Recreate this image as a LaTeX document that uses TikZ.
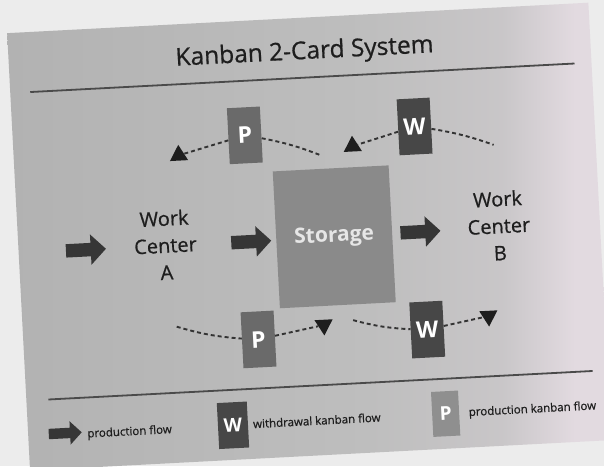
\documentclass[tikz,border=0pt]{standalone}
\usepackage{fontspec}
\setmainfont{Open Sans}
\newfontfamily\semifont[FakeBold=0.7]{Open Sans}
\usetikzlibrary{shapes.geometric,shapes.arrows}
\definecolor{bgout}{HTML}{ECECEC}
\definecolor{panA}{HTML}{B2B2B2}
\definecolor{panB}{HTML}{BEBEBE}
\definecolor{panC}{HTML}{E2DAE0}
\definecolor{storeC}{HTML}{8A8A8A}
\definecolor{cardP}{HTML}{6A6A6A}
\definecolor{cardW}{HTML}{474747}
\definecolor{inkC}{HTML}{1E1E1E}
\definecolor{arrC}{HTML}{363636}
\definecolor{dashC}{HTML}{333333}
\definecolor{ruleC}{HTML}{4A4A4A}
\definecolor{storeT}{HTML}{E6E6E6}
\pgfdeclarehorizontalshading{panelshade}{100bp}{color(0bp)=(panA); color(25bp)=(panA); color(55bp)=(panB); color(66bp)=(panB!70!panC); color(72bp)=(panC); color(100bp)=(panC)}
\begin{document}
\begin{tikzpicture}[x=1pt,y=-1pt,
  card/.style={draw=none, minimum width=33pt, minimum height=56pt, inner sep=0pt, text=white, font=\bfseries\fontsize{23}{23}\selectfont},
  pcard/.style={card, fill=cardP},
  wcard/.style={card, fill=cardW},
  flowarrow/.style={single arrow, fill=arrC, draw=none, minimum height=40pt, inner xsep=0pt, inner ysep=6.5pt, single arrow head extend=8.5pt},
  kanflow/.style={draw=dashC, line width=1.9pt, dash pattern=on 4pt off 3pt},
  uptri/.style={regular polygon, regular polygon sides=3, fill=inkC, minimum size=21pt, inner sep=0pt},
  downtri/.style={uptri, shape border rotate=180},
  wctext/.style={align=center, text=inkC, font=\semifont\fontsize{20}{27}\selectfont},
  legtext/.style={anchor=west, text=inkC, font=\semifont\fontsize{11.5}{12}\selectfont, inner sep=0pt},
  rulestyle/.style={draw=ruleC, line width=1.8pt}
]
\useasboundingbox (0,0) rectangle (604,466);
\fill[bgout] (0,0) rectangle (604,466);
\clip (0,0) rectangle (604,466);
\begin{scope}[rotate around={3:(302,233)}, transform shape]
  % panel
  \shade[shading=panelshade] (18,18) rectangle (600,456);
  % title and rules
  \node[font=\semifont\fontsize{24.5}{24.5}\selectfont, text=inkC] (title) at (314,53) {Kanban 2-Card System};
  \coordinate (r1a) at (38,78);
  \coordinate (r1b) at (583,78);
  \draw[rulestyle] (r1a) -- (r1b);
  \coordinate (r2a) at (40,386);
  \coordinate (r2b) at (585,386);
  \draw[rulestyle] (r2a) -- (r2b);
  % main row
  \node[flowarrow] (inarrow) at (82,238.5) {};
  \node[wctext] (wca) at (165,238) {Work\\Center\\A};
  \node[flowarrow] (arrAS) at (247.5,239) {};
  \node[fill=storeC, minimum width=116pt, minimum height=137pt, inner sep=0pt, text=storeT, font=\bfseries\fontsize{21}{21}\selectfont] (storage) at (334,238.5) {Storage};
  \node[flowarrow] (arrSB) at (417,238) {};
  \node[wctext] (wcb) at (499,236) {Work\\Center\\B};
  % top kanban flows
  \node[uptri] (tri1) at (183,149) {};
  \node[pcard] (ptop) at (250,132.5) {P};
  \coordinate (pe1) at (324,156);
  \node[uptri] (tri2) at (357,149) {};
  \node[wcard] (wtop) at (420,132.5) {W};
  \coordinate (pe2) at (498,155);
  \draw[kanflow] (ptop) -- (tri1);
  \draw[kanflow] (ptop) to[bend left=5] (pe1);
  \draw[kanflow] (wtop) -- (tri2);
  \draw[kanflow] (wtop) to[bend left=5] (pe2);
  % bottom kanban flows
  \coordinate (bs1) at (172,320);
  \node[pcard] (pbot) at (253,337) {P};
  \node[downtri] (tri3) at (319,326) {};
  \coordinate (bs2) at (348.5,322.7);
  \node[wcard] (wbot) at (422,336) {W};
  \node[downtri] (tri4) at (484,325.7) {};
  \draw[kanflow] (bs1) to[bend right=6] (pbot);
  \draw[kanflow] (pbot) -- (tri3);
  \draw[kanflow] (bs2) to[bend right=6] (wbot);
  \draw[kanflow] (wbot) -- (tri4);
  % legend
  \node[flowarrow, minimum height=33pt, inner ysep=5pt, single arrow head extend=6.5pt] (legarrow) at (52.5,420.5) {};
  \node[legtext] (legprod) at (77,423) {production flow};
  \node[wcard, minimum width=30pt, minimum height=46pt, font=\bfseries\fontsize{19}{19}\selectfont] (legw) at (223,421.4) {W};
  \node[legtext] (legwd) at (243,421) {withdrawal kanban flow};
  \node[pcard, fill=cardP!75!white, minimum width=27pt, minimum height=45pt, font=\bfseries\fontsize{19}{19}\selectfont] (legp) at (436,421) {P};
  \node[legtext] (legpk) at (459,421.5) {production kanban flow};
\end{scope}
\end{tikzpicture}
\end{document}
